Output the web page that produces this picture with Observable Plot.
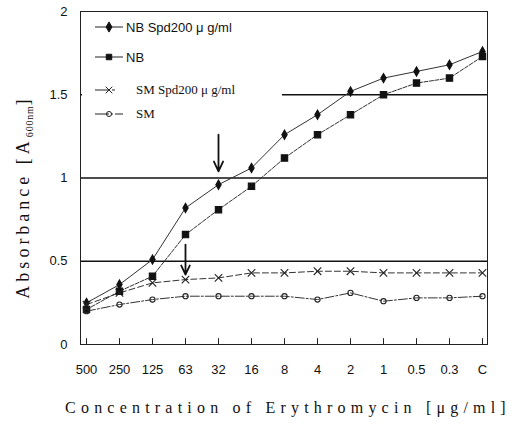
<!DOCTYPE html>
<html>
<head>
<meta charset="utf-8">
<script src="https://cdn.jsdelivr.net/npm/d3@7"></script>
<script src="https://cdn.jsdelivr.net/npm/@observablehq/plot@0.6"></script>
<style>
  html, body { margin: 0; padding: 0; background: #fff; }
  #wrap { position: relative; width: 512px; height: 424px; }
  #legend { position: absolute; left: 82px; top: 14px; width: 200px; height: 112px; background: #fff;
            font-family: "Liberation Sans", Arial, sans-serif; font-size: 13px; color: #111; }
  .row { position: absolute; left: 0; height: 16px; display: flex; align-items: center; white-space: nowrap; }
  .row svg { margin-left: 13px; margin-right: 3px; }
</style>
</head>
<body>
<div id="wrap"></div>
<script>
// ---- data ----
const concentrations = ["500", "250", "125", "63", "32", "16", "8", "4", "2", "1", "0.5", "0.3", "C"];
const nbSpd200 = [0.25, 0.36, 0.51, 0.82, 0.96, 1.06, 1.26, 1.38, 1.52, 1.60, 1.64, 1.68, 1.76];
const nb       = [0.21, 0.32, 0.41, 0.66, 0.81, 0.95, 1.12, 1.26, 1.38, 1.50, 1.57, 1.60, 1.73];
const smSpd200 = [0.24, 0.31, 0.37, 0.39, 0.40, 0.43, 0.43, 0.44, 0.44, 0.43, 0.43, 0.43, 0.43];
const sm       = [0.20, 0.24, 0.27, 0.29, 0.29, 0.29, 0.29, 0.27, 0.31, 0.26, 0.28, 0.28, 0.29];
const seriesNames = ["NB Spd200 \u03bc g/ml", "NB", "SM  Spd200 \u03bc g/ml", "SM"];
const yTicks = [0, 0.5, 1, 1.5, 2];
const gridLines = [0.5, 1, 1.5];
const arrowNotes = [
  {conc: "32", from: 1.26, to: 1.04},
  {conc: "63", from: 0.60, to: 0.42}
];
const xTitle = "Concentration of Erythromycin [\u03bcg/ml]";

// ---- build ----
const seriesData = [nbSpd200, nb, smSpd200, sm];
const styles = [
  {symbol: "diamond", fill: "#111", stroke: "#111", r: 2.8, dash: null},
  {symbol: "square", fill: "#111", stroke: "#111", r: 3.6, dash: "4,1.5"},
  {symbol: "times", fill: "none", stroke: "#222", r: 3.5, dash: "6,3"},
  {symbol: "circle", fill: "none", stroke: "#222", r: 2.6, dash: "9,2,2,2"}
];
const table = (vals) => concentrations.map((c, i) => ({c, v: vals[i]}));

const marks = [
  Plot.ruleY(gridLines, {stroke: "#111", strokeWidth: 1.3}),
  Plot.frame({stroke: "#222", strokeWidth: 1}),
  Plot.ruleX(concentrations, {x: d => d, y1: 0, y2: 0.035, stroke: "#222"}),
];
seriesData.forEach((vals, i) => {
  const s = styles[i];
  marks.push(Plot.line(table(vals), {x: "c", y: "v", stroke: "#333", strokeWidth: 1, strokeDasharray: s.dash}));
});
seriesData.forEach((vals, i) => {
  const s = styles[i];
  marks.push(Plot.dot(table(vals), {x: "c", y: "v", symbol: () => s.symbol, fill: s.fill, stroke: s.stroke, r: s.r, strokeWidth: 1.1}));
});
marks.push(Plot.arrow(arrowNotes, {x1: "conc", x2: "conc", y1: "from", y2: "to", stroke: "#111", strokeWidth: 1.8, headLength: 9, headAngle: 50}));
marks.push(Plot.axisX({tickSize: 0, tickPadding: 20, fontSize: 13, label: null}));
marks.push(Plot.axisY({ticks: yTicks, tickSize: 0, tickPadding: 13, fontSize: 13, label: null, tickFormat: d => String(d)}));

const chart = Plot.plot({
  width: 512, height: 424,
  marginLeft: 80, marginRight: 25, marginTop: 11, marginBottom: 80,
  x: {type: "point", domain: concentrations, padding: 0},
  y: {domain: [0, 2]},
  symbol: {type: "identity"},
  style: {fontFamily: "'Liberation Sans', Arial, sans-serif", color: "#111", background: "#fff"},
  marks
});
document.getElementById("wrap").appendChild(chart);

// axis titles
const svg = d3.select(chart);
svg.append("text")
  .attr("x", 288).attr("y", 413)
  .attr("text-anchor", "middle")
  .attr("font-family", "'Liberation Serif', 'DejaVu Serif', serif")
  .attr("font-size", 16).attr("letter-spacing", 5.2)
  .attr("fill", "#111")
  .text(xTitle);
const yt = svg.append("text")
  .attr("transform", "translate(29,197) rotate(-90)")
  .attr("text-anchor", "middle")
  .attr("font-family", "'Liberation Serif', 'DejaVu Serif', serif")
  .attr("font-size", 18).attr("letter-spacing", 4)
  .attr("fill", "#111");
yt.append("tspan").text("Absorbance [A");
yt.append("tspan").attr("font-size", 10).attr("dy", 4).attr("letter-spacing", 0.8).text("600nm");
yt.append("tspan").attr("dy", -4).text("]");

// legend (drawn from seriesNames)
const legend = d3.select("#wrap").append("div").attr("id", "legend");
const rowTops = [5, 35, 68, 92];
seriesNames.forEach((name, i) => {
  const s = styles[i];
  const row = legend.append("div").attr("class", "row").style("top", rowTops[i] + "px");
  const sv = row.append("svg").attr("width", 28).attr("height", 16);
  sv.append("line").attr("x1", 0).attr("x2", 28).attr("y1", 8).attr("y2", 8)
    .attr("stroke", "#222").attr("stroke-dasharray", i < 2 ? null : (i === 2 ? "14,3,3,30" : "14,2,2,2"));
  const sym = d3.symbol().type(s.symbol === "diamond" ? d3.symbolDiamond : s.symbol === "square" ? d3.symbolSquare : s.symbol === "times" ? d3.symbolTimes : d3.symbolCircle)
    .size(s.symbol === "circle" ? 20 : 30);
  sv.append("path").attr("d", sym()).attr("transform", "translate(14,8)")
    .attr("fill", s.fill).attr("stroke", s.stroke);
  const label = row.append("span").text(name);
  if (i >= 2) label.style("margin-left", "10px").style("font-family", "'Liberation Serif', serif").style("font-size", "13px");
});
</script>
</body>
</html>
